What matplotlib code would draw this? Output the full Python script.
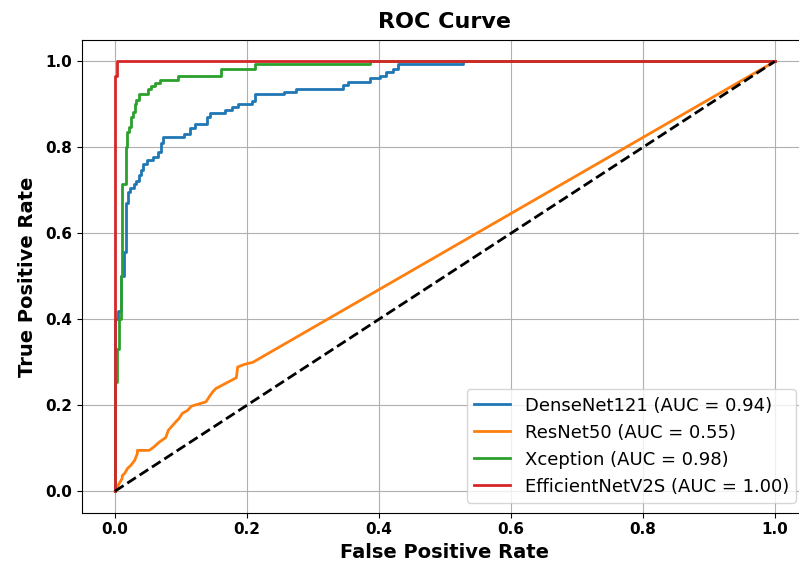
import matplotlib
matplotlib.use("Agg")
from matplotlib import pyplot as plt

# ---------------- data ----------------
densenet_fpr = [0, 0, 0.005, 0.005, 0.009, 0.009, 0.013, 0.013, 0.016, 0.016,
                0.019, 0.019, 0.023, 0.023, 0.029, 0.029, 0.032, 0.032, 0.036, 0.036,
                0.039, 0.039, 0.043, 0.043, 0.049, 0.049, 0.057, 0.057, 0.065, 0.065,
                0.070, 0.070, 0.073, 0.073, 0.104, 0.104, 0.114, 0.114, 0.121, 0.121,
                0.139, 0.139, 0.144, 0.144, 0.167, 0.167, 0.177, 0.177, 0.187, 0.187,
                0.208, 0.208, 0.213, 0.213, 0.256, 0.256, 0.274, 0.274, 0.345, 0.345,
                0.353, 0.353, 0.386, 0.386, 0.401, 0.401, 0.411, 0.411, 0.421, 0.421,
                0.429, 0.429, 0.528, 0.528, 1.0]
densenet_tpr = [0, 0.40, 0.40, 0.42, 0.42, 0.50, 0.50, 0.557, 0.557, 0.67,
                0.67, 0.696, 0.696, 0.705, 0.705, 0.716, 0.716, 0.723, 0.723, 0.735,
                0.735, 0.747, 0.747, 0.762, 0.762, 0.77, 0.77, 0.778, 0.778, 0.79,
                0.79, 0.81, 0.81, 0.824, 0.824, 0.832, 0.832, 0.845, 0.845, 0.855,
                0.855, 0.87, 0.87, 0.88, 0.88, 0.888, 0.888, 0.894, 0.894, 0.90,
                0.90, 0.909, 0.909, 0.925, 0.925, 0.929, 0.929, 0.936, 0.936, 0.946,
                0.946, 0.953, 0.953, 0.961, 0.961, 0.967, 0.967, 0.975, 0.975, 0.983,
                0.983, 0.993, 0.993, 1.0, 1.0]

resnet_fpr = [0, 0.0035, 0.011, 0.011, 0.015, 0.019, 0.024, 0.030, 0.034, 0.034,
              0.052, 0.059, 0.067, 0.077, 0.081, 0.092, 0.097, 0.102, 0.110, 0.116,
              0.138, 0.143, 0.148, 0.153, 0.184, 0.186, 0.196, 0.209, 1.0]
resnet_tpr = [0, 0.010, 0.030, 0.036, 0.042, 0.053, 0.060, 0.072, 0.088, 0.095,
              0.095, 0.103, 0.114, 0.125, 0.142, 0.161, 0.169, 0.181, 0.188, 0.198,
              0.208, 0.220, 0.231, 0.239, 0.264, 0.289, 0.295, 0.300, 1.0]

xception_fpr = [0, 0, 0.003, 0.003, 0.006, 0.006, 0.009, 0.009, 0.011, 0.011,
                0.016, 0.016, 0.018, 0.018, 0.021, 0.021, 0.024, 0.024, 0.027, 0.027,
                0.030, 0.030, 0.032, 0.032, 0.036, 0.036, 0.050, 0.050, 0.055, 0.055,
                0.060, 0.060, 0.068, 0.068, 0.095, 0.095, 0.160, 0.160, 0.213, 0.213,
                0.387, 0.387, 1.0]
xception_tpr = [0, 0.254, 0.254, 0.33, 0.33, 0.40, 0.40, 0.50, 0.50, 0.716,
                0.716, 0.80, 0.80, 0.836, 0.836, 0.847, 0.847, 0.87, 0.87, 0.882,
                0.882, 0.901, 0.901, 0.91, 0.91, 0.925, 0.925, 0.936, 0.936, 0.943,
                0.943, 0.95, 0.95, 0.958, 0.958, 0.967, 0.967, 0.983, 0.983, 0.993,
                0.993, 1.0, 1.0]

effnet_fpr = [0, 0, 0.0025, 0.0025, 1.0]
effnet_tpr = [0, 0.967, 0.967, 1.0, 1.0]

models = ["DenseNet121", "ResNet50", "Xception", "EfficientNetV2S"]
aucs = [0.94, 0.55, 0.98, 1.00]

################################### draw data #################################
fig = plt.figure(figsize=(7.99, 5.65), dpi=100)
ax = fig.add_axes([0.1026, 0.0926, 0.9083, 0.8366])

curves = [(densenet_fpr, densenet_tpr), (resnet_fpr, resnet_tpr),
          (xception_fpr, xception_tpr), (effnet_fpr, effnet_tpr)]
for (fpr, tpr), name, auc in zip(curves, models, aucs):
    ax.plot(fpr, tpr, lw=2, label='%s (AUC = %.2f)' % (name, auc))

ax.plot([0, 1], [0, 1], 'k--', lw=2)

ax.set_xlim(-0.05, 1.05)
ax.set_ylim(-0.05, 1.05)
ax.set_title('ROC Curve', fontsize=16, fontweight='bold', pad=9)
ax.set_xlabel('False Positive Rate', fontsize=14, fontweight='bold')
ax.set_ylabel('True Positive Rate', fontsize=14, fontweight='bold', labelpad=6)
for lab in ax.get_xticklabels() + ax.get_yticklabels():
    lab.set_fontweight('bold')
    lab.set_fontsize(11)
ax.grid(True)
# the picture is cut at the right, so the legend sits a bit inside the clipped spine
ax.legend(loc='lower right', fontsize=13, bbox_to_anchor=(0.984, 0.0205),
          borderaxespad=0)

fig.savefig('out.png', dpi=100)
